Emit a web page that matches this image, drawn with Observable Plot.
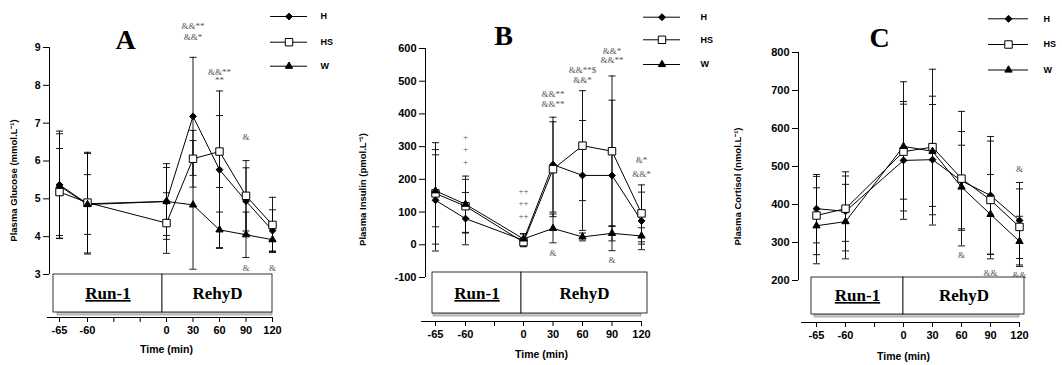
<!DOCTYPE html>
<html><head><meta charset="utf-8">
<script src="https://cdn.jsdelivr.net/npm/d3@7"></script>
<script src="https://cdn.jsdelivr.net/npm/@observablehq/plot@0.6"></script>
<style>
body{margin:0;background:#fff;}
#wrap{position:relative;width:1062px;height:365px;overflow:hidden;background:#fff;}
.panel{position:absolute;top:0;}
</style></head><body><div id="wrap"></div>
<script>
// ---------- data ----------
const times = [-65, -60, 0, 30, 60, 90, 120];
const groups = ["H", "HS", "W"];

const glucoseH    = [5.37, 4.87, 4.93, 7.18, 5.77, 4.94, 4.16];
const glucoseHS   = [5.18, 4.90, 4.36, 6.06, 6.25, 5.08, 4.31];
const glucoseW    = [5.34, 4.85, 4.93, 4.84, 4.18, 4.05, 3.92];
const glucoseSdH  = [1.42, 1.33, 1.00, 1.56, 2.08, 0.88, 0.55];
const glucoseSdHS = [1.15, 1.33, 0.80, 0.75, 0.95, 0.93, 0.73];
const glucoseSdW  = [1.38, 0.79, 0.90, 1.70, 0.47, 0.60, 0.30];

const insulinH    = [136, 80, 14, 245, 212, 212, 73];
const insulinHS   = [157, 118, 8, 231, 303, 286, 96];
const insulinW    = [165, 124, 18, 50, 24, 35, 27];
const insulinSdH  = [155, 80, 20, 145, 168, 230, 88];
const insulinSdHS = [155, 82, 12, 145, 168, 230, 87];
const insulinSdW  = [110, 86, 15, 44, 12, 23, 25];

const cortisolH    = [389, 382, 516, 518, 462, 424, 358];
const cortisolHS   = [371, 389, 539, 551, 468, 412, 341];
const cortisolW    = [344, 355, 553, 540, 446, 374, 303];
const cortisolSdH  = [90, 104, 155, 145, 130, 155, 100];
const cortisolSdHS = [103, 86, 125, 205, 177, 155, 100];
const cortisolSdW  = [100, 98, 170, 145, 110, 105, 66];

const glucoseTicks  = [3, 4, 5, 6, 7, 8, 9];
const insulinTicks  = [-100, 0, 100, 200, 300, 400, 500, 600];
const cortisolTicks = [200, 300, 400, 500, 600, 700, 800];
const timeTicksA  = [-65, -60, -40, -20, 0, 30, 60, 90, 120];
const timeTicksBC = [-65, -60, -30, 0, 30, 60, 90, 120];
const minorTicks  = [-40, -30, -20];

const phaseNames = ["Run-1", "RehyD"];
const phaseStart = [-65, 0];
const phaseEnd   = [0, 120];

const glucoseNotes = [
  {t: 30, v: 9.56, s: "&&**"}, {t: 30, v: 9.27, s: "&&*"},
  {t: 60, v: 8.35, s: "&&**"}, {t: 60, v: 8.13, s: "**"},
  {t: 90, v: 6.62, s: "&"}, {t: 90, v: 3.16, s: "&"}, {t: 120, v: 3.16, s: "&"}
];
const insulinNotes = [
  {t: -60, v: 329, s: "+"}, {t: -60, v: 292, s: "+"}, {t: -60, v: 252, s: "+"},
  {t: 0, v: 164, s: "++"}, {t: 0, v: 126, s: "++"}, {t: 0, v: 87, s: "++"},
  {t: 30, v: 461, s: "&&**"}, {t: 30, v: 431, s: "&&**"},
  {t: 60, v: 534, s: "&&**$"}, {t: 60, v: 504, s: "&&*"},
  {t: 90, v: 593, s: "&&*"}, {t: 90, v: 563, s: "&&**"},
  {t: 120, v: 258, s: "&*"}, {t: 120, v: 217, s: "&&*"},
  {t: 30, v: -24, s: "&"}, {t: 90, v: -47, s: "&"}
];
const cortisolNotes = [
  {t: 120, v: 492, s: "&"}, {t: 60, v: 266, s: "&"},
  {t: 90, v: 220, s: "&&"}, {t: 120, v: 213, s: "&&"}
];

// ---------- styles ----------
const FONT = "'Liberation Sans', Arial, Helvetica, sans-serif";
const SERIF = "'Liberation Serif', 'Times New Roman', Times, serif";
const symStyle = {
  H:  {symbol: "diamond2", r: 3.1, fill: "black"},
  HS: {symbol: "square",   r: 4.2, fill: "white"},
  W:  {symbol: "triangle", r: 2.7, fill: "black"}
};
const capSymbol = {draw(ctx, size) { const w = Math.sqrt(size); ctx.moveTo(-w, 0); ctx.lineTo(w, 0); }};

function rows(means, sds, g) {
  return times.map((t, i) => ({t, g, v: means[i], lo: means[i] - sds[i], hi: means[i] + sds[i]}));
}

function drawPanel(cfg) {
  const xs = d3.scaleLinear().domain(cfg.xDomain).range(cfg.xRange);
  const ys = d3.scaleLinear().domain(cfg.yDomain).range(cfg.yRange);
  const xInv = px => xs.invert(px);
  const yInv = py => ys.invert(py);
  const marks = [];

  // axes
  marks.push(Plot.ruleX([xInv(cfg.yAxisX)], {x: d => d, y1: cfg.yDomain[0], y2: cfg.yDomain[1], stroke: "#000", strokeWidth: 1}));
  marks.push(Plot.axisY({ticks: cfg.yTicks, tickSize: 6, tickPadding: 3, tickFormat: d => String(d),
    fontSize: cfg.yFont, fontWeight: "bold", label: null}));
  marks.push(Plot.axisX({ticks: cfg.xTicks, tickSize: 5, tickPadding: 4,
    tickFormat: d => minorTicks.includes(d) ? "" : String(d), fontSize: 11, fontWeight: "bold", label: null}));

  // error bars
  for (const r of cfg.series) {
    marks.push(Plot.ruleX(r, {x: "t", y1: "lo", y2: "hi", stroke: "#000", strokeWidth: 0.9}));
    marks.push(Plot.dot(r, {x: "t", y: "hi", symbol: capSymbol, r: 2, stroke: "#000", fill: "none", strokeWidth: 0.9}));
    marks.push(Plot.dot(r, {x: "t", y: "lo", symbol: capSymbol, r: 2, stroke: "#000", fill: "none", strokeWidth: 0.9}));
  }
  for (const r of cfg.series) marks.push(Plot.line(r, {x: "t", y: "v", stroke: "#000", strokeWidth: 1}));
  for (const r of cfg.series) {
    const s = symStyle[r[0].g];
    marks.push(Plot.dot(r, {x: "t", y: "v", symbol: s.symbol, r: s.r, fill: s.fill, stroke: "#000", strokeWidth: 1}));
  }

  // annotations
  marks.push(Plot.text(cfg.notes, {x: "t", y: "v", text: "s", fontFamily: SERIF, fontSize: 9, fill: "#555"}));

  // phase box
  const phases = phaseNames.map((name, i) => ({name, from: phaseStart[i], to: phaseEnd[i]}));
  const edge = t => xs(t) + (t === phaseStart[0] ? -cfg.box.padL : t === phaseEnd[1] ? cfg.box.padR : cfg.box.div);
  marks.push(Plot.rect([0], {x1: xInv(xs(phaseStart[0]) - 2), x2: phaseEnd[1],
    y1: yInv(cfg.box.bottom), y2: yInv(cfg.box.bottom + 3), fill: "#c8c8c8", stroke: "#888", strokeWidth: 0.6}));
  marks.push(Plot.rect(phases, {x1: d => xInv(edge(d.from)), x2: d => xInv(edge(d.to)),
    y1: yInv(cfg.box.top), y2: yInv(cfg.box.bottom), fill: "white", stroke: "#000", strokeWidth: 0.8}));
  marks.push(Plot.text(phases, {x: d => xInv((edge(d.from) + edge(d.to)) / 2), y: yInv(cfg.box.textY), text: "name",
    fontFamily: SERIF, fontWeight: "bold", fontSize: 17, fill: "#000"}));

  // x axis line
  marks.push(Plot.ruleY([yInv(cfg.xAxisY)], {y: d => d, x1: xInv(cfg.xAxisL), x2: cfg.xDomain[cfg.xDomain.length - 1], stroke: "#000", strokeWidth: 1}));

  // labels
  marks.push(Plot.text([cfg.title], {x: xInv(cfg.titleX), y: yInv(cfg.titleY), text: d => d, fontFamily: SERIF, fontWeight: "bold", fontSize: 28, fill: "#000"}));
  marks.push(Plot.text([cfg.ylabel], {x: xInv(cfg.ylabelX), y: yInv(cfg.ylabelY), text: d => d, rotate: -90, fontWeight: "bold", fontSize: 9.5, fill: "#000"}));
  marks.push(Plot.text(["Time (min)"], {x: xInv(cfg.timeX), y: yInv(cfg.timeY), text: d => d, fontWeight: "bold", fontSize: 10.5, fill: "#000"}));

  // legend
  groups.forEach((g, i) => {
    const yv = yInv(cfg.legend.rows[i]);
    const s = symStyle[g];
    marks.push(Plot.ruleY([yv], {y: d => d, x1: xInv(cfg.legend.x1), x2: xInv(cfg.legend.x2), stroke: "#000", strokeWidth: 1}));
    marks.push(Plot.dot([yv], {x: xInv((cfg.legend.x1 + cfg.legend.x2) / 2), y: d => d, symbol: s.symbol, r: s.r, fill: s.fill, stroke: "#000", strokeWidth: 1}));
    marks.push(Plot.text([g], {x: xInv(cfg.legend.tx), y: yv, text: d => d, textAnchor: "start", fontWeight: "bold", fontSize: 9, fill: "#000"}));
  });

  const svg = Plot.plot({
    width: cfg.width, height: 365,
    marginLeft: cfg.yAxisX, marginBottom: 365 - cfg.xAxisY, marginTop: 0, marginRight: 0,
    x: {type: "linear", domain: cfg.xDomain, range: cfg.xRange},
    y: {type: "linear", domain: cfg.yDomain, range: cfg.yRange},
    style: {fontFamily: FONT, background: "none", overflow: "visible", color: "#000"},
    marks
  });
  svg.querySelectorAll("text").forEach(t => { if (t.textContent === "Run-1") t.setAttribute("text-decoration", "underline"); });
  const div = document.createElement("div");
  div.className = "panel";
  div.style.left = cfg.left + "px";
  div.appendChild(svg);
  document.getElementById("wrap").appendChild(div);
}

drawPanel({
  left: 0, width: 355, title: "A", titleX: 125, titleY: 40,
  xDomain: [-65, -60, 0, 120], xRange: [59, 87, 166, 272], xTicks: timeTicksA,
  yDomain: [3, 9], yRange: [274, 47], yTicks: glucoseTicks, yFont: 10.5,
  yAxisX: 49, xAxisY: 317, xAxisL: 47,
  box: {top: 274, bottom: 312, padL: 6, padR: 0, div: -4, textY: 293},
  ylabel: "Plasma Glucose (mmol.L⁻¹)", ylabelX: 13, ylabelY: 180,
  timeX: 166, timeY: 349,
  legend: {x1: 270, x2: 307, tx: 320, rows: [16, 41.7, 65.7]},
  series: [rows(glucoseH, glucoseSdH, "H"), rows(glucoseHS, glucoseSdHS, "HS"), rows(glucoseW, glucoseSdW, "W")],
  notes: glucoseNotes
});

drawPanel({
  left: 355, width: 355, title: "B", titleX: 148, titleY: 36,
  xDomain: [-65, -60, 0, 120], xRange: [80, 110, 168, 286], xTicks: timeTicksBC,
  yDomain: [-100, 600], yRange: [277, 48], yTicks: insulinTicks, yFont: 11,
  yAxisX: 70, xAxisY: 321, xAxisL: 66,
  box: {top: 272, bottom: 313, padL: 3, padR: 6, div: -2, textY: 293},
  ylabel: "Plasma Insulin (pmol.L⁻¹)", ylabelX: 7, ylabelY: 189,
  timeX: 186, timeY: 354,
  legend: {x1: 288, x2: 325, tx: 345, rows: [16.7, 39.3, 64]},
  series: [rows(insulinH, insulinSdH, "H"), rows(insulinHS, insulinSdHS, "HS"), rows(insulinW, insulinSdW, "W")],
  notes: insulinNotes
});

drawPanel({
  left: 710, width: 352, title: "C", titleX: 169, titleY: 37.5,
  xDomain: [-65, -60, 0, 120], xRange: [106, 135, 193, 309], xTicks: timeTicksBC,
  yDomain: [200, 800], yRange: [280, 52], yTicks: cortisolTicks, yFont: 11,
  yAxisX: 88, xAxisY: 322, xAxisL: 91,
  box: {top: 277, bottom: 314, padL: 5, padR: 5, div: 0, textY: 295},
  ylabel: "Plasma Cortisol (nmol.L⁻¹)", ylabelX: 27, ylabelY: 186,
  timeX: 193, timeY: 356,
  legend: {x1: 278, x2: 318, tx: 333, rows: [18.3, 44, 69.5]},
  series: [rows(cortisolH, cortisolSdH, "H"), rows(cortisolHS, cortisolSdHS, "HS"), rows(cortisolW, cortisolSdW, "W")],
  notes: cortisolNotes
});
</script>
</body></html>
